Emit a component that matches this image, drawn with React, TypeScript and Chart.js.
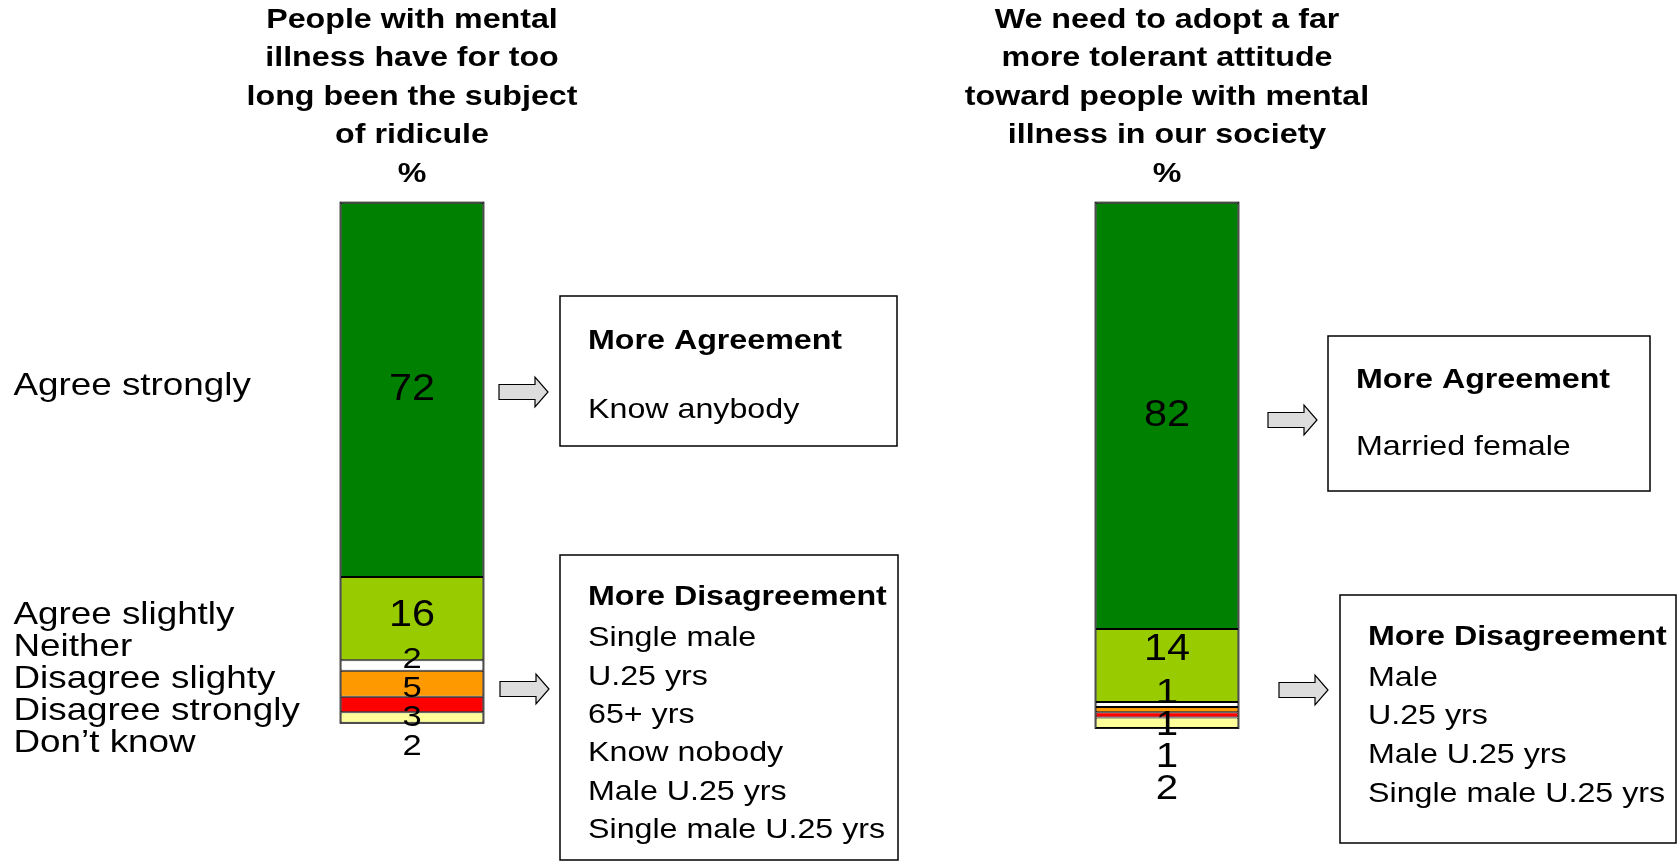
import React, { useEffect, useRef } from 'react';
import { Chart, registerables } from 'chart.js';

Chart.register(...registerables);

// ---------------- data ----------------
const questions = [
  'People with mental illness have for too long been the subject of ridicule',
  'We need to adopt a far more tolerant attitude toward people with mental illness in our society',
];
const titleLinesQ1 = ['People with mental', 'illness have for too', 'long been the subject', 'of ridicule', '%'];
const titleLinesQ2 = ['We need to adopt a far', 'more tolerant attitude', 'toward people with mental', 'illness in our society', '%'];

const responses = ['Agree strongly', 'Agree slightly', 'Neither', 'Disagree slighty', 'Disagree strongly', 'Don\u2019t know'];
const agreeStrongly = [72, 82];
const agreeSlightly = [16, 14];
const neither = [2, 1];
const disagreeSlightly = [5, 1];
const disagreeStrongly = [3, 1];
const dontKnow = [2, 2];

const agreementHeading = 'More Agreement';
const disagreementHeading = 'More Disagreement';
const agreementGroupsQ1 = ['Know anybody'];
const agreementGroupsQ2 = ['Married female'];
const disagreementGroupsQ1 = ['Single male', 'U.25 yrs', '65+ yrs', 'Know nobody', 'Male U.25 yrs', 'Single male U.25 yrs'];
const disagreementGroupsQ2 = ['Male', 'U.25 yrs', 'Male U.25 yrs', 'Single male U.25 yrs'];

// ---------------- styles / layout ----------------
const COLORS = ['#008000', '#99CC00', '#FFFFFF', '#FF9900', '#FF0000', '#FFFF99'];
const FONT = "'Liberation Sans', Arial, Helvetica, sans-serif";
const SX = 1.15; // horizontal stretch of all text

const TITLE = { top: 20, lineHeight: 38.5, size: 28 };
const VALUE_LABEL = [
  { bigSize: 36, smallSize: 30, spacing: 29, offset: -1, bigGap: 43 },
  { bigSize: 36, smallSize: 35, spacing: 32, offset: -9, bigGap: 43 },
];
const LEGEND = { size: 32, spacing: 32, shift: -4, gapLeft: 21 };

const BOXES = [
  {
    agree: { x: 560, y: 296, w: 337, h: 150, textX: 588, headY: 341, firstY: 410, step: 38.5 },
    agreeArrow: { x: 499, cy: 392 },
    disagree: { x: 560, y: 555, w: 338, h: 305, textX: 588, headY: 597, firstY: 638.5, step: 38.4 },
    disagreeArrow: { x: 500, cy: 689 },
    agreeItems: agreementGroupsQ1,
    disagreeItems: disagreementGroupsQ1,
  },
  {
    agree: { x: 1328, y: 336, w: 322, h: 155, textX: 1356, headY: 380, firstY: 447, step: 38.5 },
    agreeArrow: { x: 1268, cy: 420 },
    disagree: { x: 1340, y: 595, w: 336, h: 248, textX: 1368, headY: 637.5, firstY: 678, step: 38.6 },
    disagreeArrow: { x: 1279, cy: 690 },
    agreeItems: agreementGroupsQ2,
    disagreeItems: disagreementGroupsQ2,
  },
];

function drawText(ctx: CanvasRenderingContext2D, text: string, x: number, y: number, font: string, align: CanvasTextAlign) {
  ctx.save();
  ctx.translate(x, y);
  ctx.scale(SX, 1);
  ctx.font = font;
  ctx.textAlign = align;
  ctx.textBaseline = 'middle';
  ctx.fillStyle = '#000';
  ctx.fillText(text, 0, 0);
  ctx.restore();
}

function drawArrow(ctx: CanvasRenderingContext2D, x0: number, cy: number) {
  const len = 49, headLen = 13, shaft = 7.5, head = 15;
  ctx.save();
  ctx.beginPath();
  ctx.moveTo(x0, cy - shaft);
  ctx.lineTo(x0 + len - headLen, cy - shaft);
  ctx.lineTo(x0 + len - headLen, cy - head);
  ctx.lineTo(x0 + len, cy);
  ctx.lineTo(x0 + len - headLen, cy + head);
  ctx.lineTo(x0 + len - headLen, cy + shaft);
  ctx.lineTo(x0, cy + shaft);
  ctx.closePath();
  ctx.fillStyle = '#DDDDDD';
  ctx.fill();
  ctx.strokeStyle = '#000';
  ctx.lineWidth = 1.2;
  ctx.stroke();
  ctx.restore();
}

function drawBox(ctx: CanvasRenderingContext2D, b: any, heading: string, items: string[]) {
  ctx.save();
  ctx.strokeStyle = '#000';
  ctx.lineWidth = 1.5;
  ctx.strokeRect(b.x, b.y, b.w, b.h);
  ctx.restore();
  drawText(ctx, heading, b.textX, b.headY, `bold 28px ${FONT}`, 'left');
  items.forEach((t, k) => drawText(ctx, t, b.textX, b.firstY + k * b.step, `28px ${FONT}`, 'left'));
}

const overlayPlugin = {
  id: 'overlay',
  afterDatasetsDraw(chart: any) {
    const ctx: CanvasRenderingContext2D = chart.ctx;
    const xs = chart.scales.x;
    const nBars = chart.data.labels.length;
    const nSets = chart.data.datasets.length;
    const titles = [titleLinesQ1, titleLinesQ2];

    for (let i = 0; i < nBars; i++) {
      const segs: any[] = [];
      for (let d = 0; d < nSets; d++) {
        const el = chart.getDatasetMeta(d).data[i];
        const top = Math.min(el.y, el.base);
        const bottom = Math.max(el.y, el.base);
        segs.push({ top, bottom, center: (top + bottom) / 2, value: chart.data.datasets[d].data[i], x: el.x, width: el.width });
      }
      // outer outline of stack
      const left = segs[0].x - segs[0].width / 2;
      const t = Math.min(...segs.map((s) => s.top));
      const btm = Math.max(...segs.map((s) => s.bottom));
      ctx.save();
      ctx.strokeStyle = '#000';
      ctx.lineWidth = 1;
      ctx.strokeRect(left - 0.5, t - 0.5, segs[0].width + 1, btm - t + 1);
      ctx.restore();

      // value labels
      const st = VALUE_LABEL[i];
      let firstSmall = segs.findIndex((s) => s.value < 10);
      if (firstSmall < 0) firstSmall = segs.length;
      const clusterTop = firstSmall < segs.length ? segs[firstSmall].top : 0;
      const ys = segs.map((s, d) => (d >= firstSmall ? clusterTop + st.offset + (d - firstSmall) * st.spacing : s.center));
      if (firstSmall > 0 && firstSmall < segs.length) ys[firstSmall - 1] = Math.min(ys[firstSmall - 1], ys[firstSmall] - st.bigGap);
      segs.forEach((s, d) => {
        const size = d >= firstSmall ? st.smallSize : st.bigSize;
        drawText(ctx, String(s.value), s.x, ys[d], `${size}px ${FONT}`, 'center');
      });

      // legend labels aligned with first bar
      if (i === 0) {
        const lx = chart.chartArea.left - LEGEND.gapLeft;
        let prev = 0;
        segs.forEach((s, d) => {
          const y = d < firstSmall ? s.center + LEGEND.shift : prev + LEGEND.spacing;
          prev = y;
          drawText(ctx, chart.data.datasets[d].label, lx, y, `${LEGEND.size}px ${FONT}`, 'left');
        });
      }

      // title
      const cx = xs.getPixelForValue(i);
      titles[i].forEach((line, k) => drawText(ctx, line, cx, TITLE.top + k * TITLE.lineHeight, `bold ${TITLE.size}px ${FONT}`, 'center'));

      // boxes and arrows
      const B = BOXES[i];
      drawArrow(ctx, B.agreeArrow.x, B.agreeArrow.cy);
      drawArrow(ctx, B.disagreeArrow.x, B.disagreeArrow.cy);
      drawBox(ctx, B.agree, agreementHeading, B.agreeItems);
      drawBox(ctx, B.disagree, disagreementHeading, B.disagreeItems);
    }
  },
};

export default function App() {
  const ref = useRef<HTMLCanvasElement | null>(null);
  useEffect(() => {
    const canvas = ref.current;
    if (!canvas) return;
    const series = [agreeStrongly, agreeSlightly, neither, disagreeSlightly, disagreeStrongly, dontKnow];
    const chart = new Chart(canvas, {
      type: 'bar',
      data: {
        labels: questions,
        datasets: responses.map((r, d) => ({
          label: r,
          data: series[d],
          backgroundColor: COLORS[d],
          borderColor: '#000',
          borderWidth: 1,
          borderSkipped: false,
          categoryPercentage: 1,
          barPercentage: 0.189,
        })),
      },
      options: {
        responsive: false,
        animation: false,
        devicePixelRatio: 1,
        layout: { padding: { left: 34.5, right: 135.5, top: 202.7, bottom: 38.3 } },
        scales: {
          x: { display: false, stacked: true },
          y: { display: false, stacked: true, reverse: true, min: 0, max: 120 },
        },
        plugins: {
          legend: { display: false },
          tooltip: { enabled: false },
          title: { display: false },
        },
      },
      plugins: [overlayPlugin],
    } as any);
    return () => chart.destroy();
  }, []);
  return (
    <div style={{ position: 'fixed', left: 0, top: 0, width: 1680, height: 865, background: '#fff' }}>
      <canvas ref={ref} width={1680} height={865} style={{ display: 'block', width: 1680, height: 865 }} />
    </div>
  );
}
